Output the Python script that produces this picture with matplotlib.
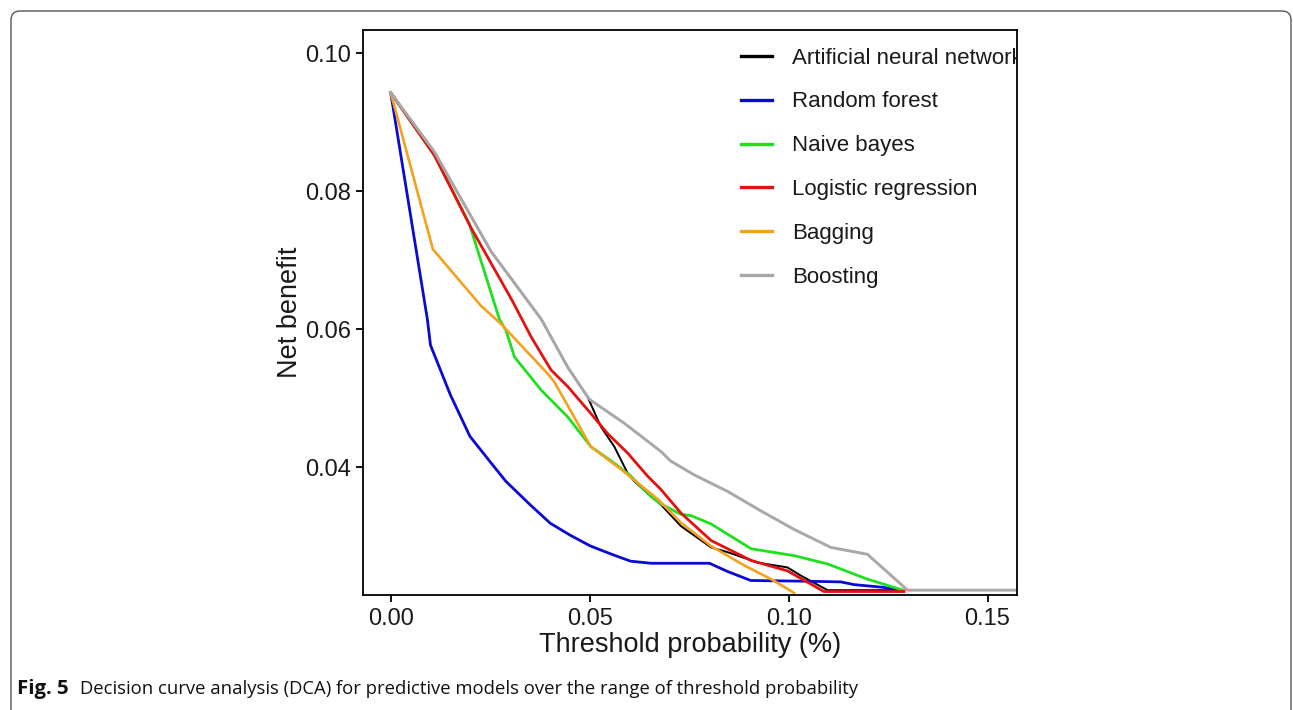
import matplotlib
matplotlib.use("Agg")
import matplotlib.pyplot as plt
from matplotlib.patches import FancyBboxPatch
from matplotlib.transforms import IdentityTransform

plt.rcParams['font.family'] = ['Liberation Sans', 'DejaVu Sans']

# ---------------- data ----------------
ann_x = [0, 0.011, 0.0252, 0.0378, 0.0445, 0.0495, 0.0528, 0.0562, 0.0595, 0.0612,
         0.0654, 0.0679, 0.0729, 0.0805, 0.0847, 0.0922, 0.0997, 0.1031, 0.1098, 0.129]
ann_y = [0.0943, 0.0857, 0.0713, 0.0615, 0.0545, 0.0502, 0.0459, 0.0430, 0.0392, 0.0380,
         0.0358, 0.0346, 0.0315, 0.0284, 0.0277, 0.0262, 0.0255, 0.0243, 0.0222, 0.0222]

rf_x = [0, 0.0092, 0.0100, 0.0150, 0.0199, 0.0250, 0.0289, 0.0350, 0.0401, 0.0450, 0.0502,
        0.0560, 0.0603, 0.0654, 0.0801, 0.0847, 0.0905, 0.1039, 0.1131, 0.1165, 0.1240, 0.1282]
rf_y = [0.0943, 0.0615, 0.0577, 0.0505, 0.0445, 0.0408, 0.0380, 0.0346, 0.0319, 0.0302, 0.0286,
        0.0273, 0.0264, 0.0261, 0.0261, 0.0249, 0.0236, 0.0235, 0.0234, 0.0230, 0.0226, 0.0221]

nb_x = [0, 0.011, 0.0198, 0.0273, 0.0290, 0.0311, 0.0378, 0.0445, 0.0503, 0.0562, 0.0604,
        0.0654, 0.0679, 0.0729, 0.0755, 0.0805, 0.0906, 0.1014, 0.1098, 0.1198, 0.1282, 0.129]
nb_y = [0.0943, 0.0852, 0.0752, 0.0615, 0.0598, 0.0560, 0.0512, 0.0473, 0.0430, 0.0406, 0.0387,
        0.0358, 0.0347, 0.0332, 0.0330, 0.0318, 0.0282, 0.0272, 0.0260, 0.0238, 0.0223, 0.0222]

lr_x = [0, 0.011, 0.0202, 0.0306, 0.0353, 0.0403, 0.0445, 0.0503, 0.0545, 0.0595, 0.0646,
        0.0679, 0.0729, 0.0805, 0.0906, 0.0997, 0.1089, 0.129]
lr_y = [0.0943, 0.0852, 0.0747, 0.0641, 0.0589, 0.0541, 0.0517, 0.0478, 0.0449, 0.0421, 0.0387,
        0.0368, 0.0334, 0.0294, 0.0265, 0.0250, 0.0220, 0.0220]

bag_x = [0, 0.0106, 0.0227, 0.0277, 0.0394, 0.0411, 0.0503, 0.0579, 0.0671, 0.0729, 0.0805,
         0.0888, 0.0956, 0.1014]
bag_y = [0.0943, 0.0716, 0.0634, 0.0608, 0.0536, 0.0524, 0.0430, 0.0397, 0.0354, 0.0320, 0.0286,
         0.0258, 0.0238, 0.0218]

boost_x = [0, 0.011, 0.0252, 0.0378, 0.0445, 0.0495, 0.0503, 0.0587, 0.0679, 0.0704, 0.0763,
           0.0847, 0.0930, 0.1014, 0.1106, 0.1198, 0.1299, 0.158]
boost_y = [0.0943, 0.0857, 0.0713, 0.0615, 0.0545, 0.0502, 0.0497, 0.0464, 0.0423, 0.0409, 0.0389,
           0.0365, 0.0337, 0.0310, 0.0284, 0.0274, 0.0222, 0.0222]

labels = ["Artificial neural networks", "Random forest", "Naive bayes",
          "Logistic regression", "Bagging", "Boosting"]
x_ticks = [0.00, 0.05, 0.10, 0.15]
x_tick_labels = ["0.00", "0.05", "0.10", "0.15"]
y_ticks = [0.04, 0.06, 0.08, 0.10]
y_tick_labels = ["0.04", "0.06", "0.08", "0.10"]
x_title = "Threshold probability (%)"
y_title = "Net benefit"
caption_bold = "Fig. 5"
caption_text = "Decision curve analysis (DCA) for predictive models over the range of threshold probability"

# ---------------- figure ----------------
W, H = 1293, 710
fig = plt.figure(figsize=(W / 100, H / 100), dpi=100)
fig.patch.set_facecolor("white")

ax_l, ax_r, ax_t, ax_b = 362.7, 1017.0, 30.0, 595.0
ax = fig.add_axes([ax_l / W, 1 - ax_b / H, (ax_r - ax_l) / W, (ax_b - ax_t) / H])

series = [
    (ann_x, ann_y, "#000000", 1.4),
    (rf_x, rf_y, "#0a0ad2", 2.0),
    (nb_x, nb_y, "#1fe01f", 2.0),
    (lr_x, lr_y, "#e51010", 2.0),
    (bag_x, bag_y, "#f4a21e", 1.9),
    (boost_x, boost_y, "#a8a8a8", 2.1),
]
for (xs, ys, c, lw), lab in zip(series, labels):
    ax.plot(xs, ys, color=c, lw=lw, label=lab, solid_joinstyle="round")

ax.set_xlim(-0.00704, 0.1574)
ax.set_ylim(0.0215, 0.10338)
ax.set_xticks(x_ticks)
ax.set_xticklabels(x_tick_labels)
ax.set_yticks(y_ticks)
ax.set_yticklabels(y_tick_labels)
ax.tick_params(axis="both", direction="out", length=4.7, width=1.3, color="black",
               labelsize=17, labelcolor="#1a1a1a")
ax.tick_params(axis="x", pad=5)
ax.tick_params(axis="y", pad=3.6)
for s in ax.spines.values():
    s.set_linewidth(1.3)
    s.set_color("black")

ax.set_xlabel(x_title, fontsize=19.5, color="#1a1a1a", labelpad=1.0)
ax.set_ylabel(y_title, fontsize=19.5, color="#1a1a1a", labelpad=1.7)

leg = ax.legend(loc="upper left", bbox_to_anchor=(0.578, 0.969), frameon=False,
                fontsize=16, handlelength=1.4, handletextpad=0.9, labelspacing=1.03,
                borderpad=0, borderaxespad=0)
for line in leg.get_lines():
    line.set_linewidth(2.4)
for t in leg.get_texts():
    t.set_color("#1a1a1a")
    t.set_clip_box(ax.bbox)
    t.set_clip_on(True)

# outer rounded frame (page panel)
frame = FancyBboxPatch((11, -30), 1291 - 11, (H - 11) + 30,
                       boxstyle="round,pad=0,rounding_size=9",
                       transform=IdentityTransform(), fill=False,
                       edgecolor="#555555", lw=1.0)
fig.patches.append(frame)

# caption
cb = fig.text(16.7 / W, 1 - 694 / H, caption_bold, fontsize=11, fontweight="bold",
              family=["Open Sans", "DejaVu Sans"], color="#111111", va="baseline", ha="left")
ct = fig.text(80 / W, 1 - 694 / H, caption_text, fontsize=11,
              family=["Open Sans", "DejaVu Sans"], color="#111111", va="baseline", ha="left")
fig.canvas.draw()
r = fig.canvas.get_renderer()
wb = ct.get_window_extent(r).width
ct.set_fontsize(11 * 777.0 / wb)
wbb = cb.get_window_extent(r).width
cb.set_fontsize(11 * 51.6 / wbb)

fig.savefig("out.png", dpi=100)
